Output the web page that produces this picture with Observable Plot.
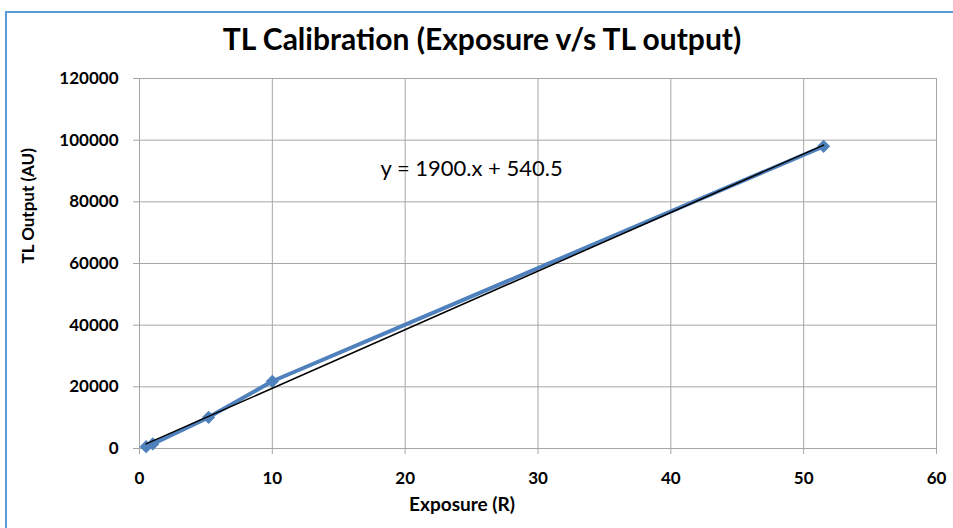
<!DOCTYPE html>
<html>
<head>
<meta charset="utf-8">
<script src="https://cdn.jsdelivr.net/npm/d3@7"></script>
<script src="https://cdn.jsdelivr.net/npm/@observablehq/plot@0.6"></script>
<style>
  html, body { margin: 0; padding: 0; background: #fff; }
  #wrap { position: relative; width: 953px; height: 528px; overflow: hidden; }
  #border { position: absolute; left: 5px; top: 11px; right: -10px; bottom: -10px;
            border-left: 2px solid #5b9bd5; border-top: 2px solid #5b9bd5; pointer-events: none; }
  #chart { position: absolute; left: 0; top: 0; }
</style>
</head>
<body>
<div id="wrap"><div id="chart"></div><div id="border"></div></div>
<script>
// Data
const exposure = [0.5, 1, 5.2, 10, 51.5];
const tlOutput = [600, 1500, 10100, 21800, 98000];
const xTicks = [0, 10, 20, 30, 40, 50, 60];
const yTicks = [0, 20000, 40000, 60000, 80000, 100000, 120000];
const trendSlope = 1900;
const trendIntercept = 540.5;
const trendRange = [0.5, 51.5];
const equationLabel = ["y = 1900.x + 540.5"];
const equationPos = [25, 90800];
const titleText = "TL Calibration (Exposure v/s TL output)";
const xLabel = "Exposure (R)";
const yLabel = "TL Output (AU)";

const points = exposure.map((x, i) => ({x, y: tlOutput[i]}));
const trend = trendRange.map(x => ({x, y: trendSlope * x + trendIntercept}));

const font = "Lato, 'Open Sans', sans-serif";
const blue = "#4f81bd";
const grid = "#a6a6a6";

const chart = Plot.plot({
  width: 953,
  height: 528,
  marginLeft: 139,
  marginRight: 17,
  marginTop: 78,
  marginBottom: 80,
  style: {fontFamily: font, background: "transparent"},
  x: {domain: [0, 60], ticks: xTicks},
  y: {domain: [0, 120000], ticks: yTicks},
  marks: [
    Plot.gridX(xTicks, {stroke: grid, strokeOpacity: 1, strokeWidth: 1}),
    Plot.gridY(yTicks, {stroke: grid, strokeOpacity: 1, strokeWidth: 1}),
    Plot.axisX(xTicks, {tickSize: 6, tickPadding: 17, stroke: grid, fontSize: 17, fontWeight: "bold", fill: "#000", label: null, tickFormat: d3.format("d")}),
    Plot.axisY(yTicks, {tickSize: 6, tickPadding: 15, stroke: grid, fontSize: 17, fontWeight: "bold", fill: "#000", label: null, tickFormat: d3.format("d")}),
    Plot.line(points, {x: "x", y: "y", stroke: blue, strokeWidth: 4}),
    Plot.dot(points, {x: "x", y: "y", symbol: "diamond2", fill: blue, stroke: blue, r: 5}),
    Plot.line(trend, {x: "x", y: "y", stroke: "#000", strokeWidth: 1.5}),
    Plot.text(equationLabel, {x: () => equationPos[0], y: () => equationPos[1], fontSize: 22, fill: "#000", textAnchor: "middle"}),
    Plot.text([titleText], {frameAnchor: "top", dy: -50, fontSize: 30, fontWeight: "bold", fill: "#000", dx: -56}),
    Plot.text([xLabel], {frameAnchor: "bottom", dy: 62, dx: -76, fontSize: 19, fontWeight: "bold", fill: "#000"}),
    Plot.text([yLabel], {frameAnchor: "left", dx: -111, rotate: -90, fontSize: 17, fontWeight: "bold", fill: "#000"})
  ]
});
document.getElementById("chart").appendChild(chart);
</script>
</body>
</html>
